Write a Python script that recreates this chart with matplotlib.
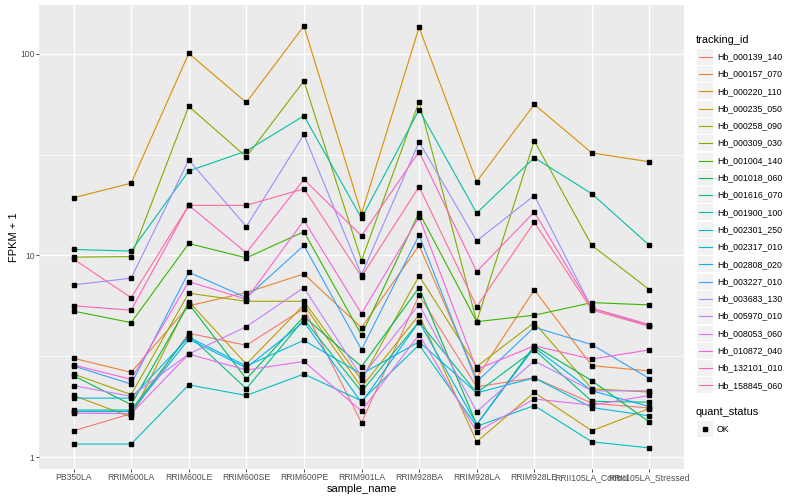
import numpy as np
import matplotlib
matplotlib.use("Agg")
import matplotlib.pyplot as plt
from matplotlib.patches import Rectangle
from matplotlib.lines import Line2D
from matplotlib.ticker import NullFormatter

plt.rcParams['font.family'] = ['Liberation Sans', 'DejaVu Sans']

samples = ["PB350LA", "RRIM600LA", "RRIM600LE", "RRIM600SE", "RRIM600PE", "RRIM901LA",
           "RRIM928BA", "RRIM928LA", "RRIM928LE", "RRII105LA_Control", "RRII105LA_Stressed"]

tracking_ids = ["Hb_000139_140", "Hb_000157_070", "Hb_000220_110", "Hb_000235_050",
                "Hb_000258_090", "Hb_000309_030", "Hb_001004_140", "Hb_001018_060",
                "Hb_001616_070", "Hb_001900_100", "Hb_002301_250", "Hb_002317_010",
                "Hb_002808_020", "Hb_003227_010", "Hb_003683_130", "Hb_005970_010",
                "Hb_008053_060", "Hb_010872_040", "Hb_132101_010", "Hb_158845_060"]

# FPKM + 1, one row per tracking_id, columns follow samples
hb_000139_140 = [1.35, 1.64, 4.11, 3.58, 5.45, 1.48, 6.35, 2.23, 2.47, 1.85, 1.75]
hb_000157_070 = [3.09, 2.63, 5.62, 6.54, 8.09, 4.38, 11.2, 2.47, 6.74, 2.84, 2.67]
hb_000220_110 = [19.3, 22.8, 100.3, 57.3, 137, 16.1, 135, 23.2, 56.0, 32.2, 29.1]
hb_000235_050 = [2.02, 1.58, 5.90, 2.89, 5.68, 2.22, 5.07, 1.19, 2.09, 1.35, 1.74]
hb_000258_090 = [2.58, 2.04, 6.49, 5.92, 5.92, 2.41, 7.91, 2.81, 4.64, 2.18, 2.10]
hb_000309_030 = [9.80, 9.86, 54.8, 30.8, 73.2, 9.42, 57.8, 4.69, 37.0, 11.2, 6.76]
hb_001004_140 = [5.29, 4.64, 11.45, 9.72, 13.1, 4.03, 16.3, 4.69, 5.05, 5.83, 5.68]
hb_001018_060 = [2.53, 1.82, 5.75, 2.44, 4.97, 2.81, 6.92, 1.45, 3.56, 2.39, 1.49]
hb_001616_070 = [1.71, 1.71, 4.03, 2.18, 4.82, 2.11, 4.69, 2.08, 3.40, 1.89, 1.87]
hb_001900_100 = [10.7, 10.5, 26.2, 32.9, 49.2, 15.3, 52.7, 16.2, 30.5, 20.2, 11.2]
hb_002301_250 = [1.16, 1.16, 2.28, 2.02, 2.58, 1.90, 3.60, 1.42, 1.80, 1.19, 1.11]
hb_002317_010 = [1.96, 1.96, 3.93, 2.83, 3.79, 2.58, 3.73, 2.08, 2.47, 1.76, 1.60]
hb_002808_020 = [1.68, 1.68, 3.84, 2.77, 4.68, 1.86, 4.69, 1.45, 3.49, 2.13, 1.78]
hb_003227_010 = [2.83, 2.30, 8.25, 6.17, 11.2, 3.41, 12.6, 2.36, 4.40, 3.61, 2.45]
hb_003683_130 = [7.14, 7.71, 29.7, 13.9, 39.8, 8.00, 36.5, 11.8, 19.8, 5.47, 4.47]
hb_005970_010 = [2.26, 2.00, 3.24, 4.43, 6.92, 2.50, 5.70, 1.68, 3.00, 2.13, 2.13]
hb_008053_060 = [1.65, 1.64, 3.24, 2.70, 2.98, 1.69, 4.05, 1.33, 1.94, 1.81, 2.02]
hb_010872_040 = [2.86, 2.43, 7.41, 6.06, 14.9, 5.14, 15.5, 2.72, 3.56, 3.06, 3.40]
hb_132101_010 = [5.62, 5.35, 17.7, 10.3, 23.8, 12.5, 32.7, 8.31, 16.4, 5.47, 4.54]
hb_158845_060 = [9.58, 6.17, 17.7, 17.7, 21.4, 7.85, 21.9, 5.57, 14.6, 5.36, 4.45]

series = [hb_000139_140, hb_000157_070, hb_000220_110, hb_000235_050, hb_000258_090,
          hb_000309_030, hb_001004_140, hb_001018_060, hb_001616_070, hb_001900_100,
          hb_002301_250, hb_002317_010, hb_002808_020, hb_003227_010, hb_003683_130,
          hb_005970_010, hb_008053_060, hb_010872_040, hb_132101_010, hb_158845_060]


def hcl_rgb(h, c=100, l=65):
    # ggplot's default hue palette (polar Luv -> sRGB)
    hr = np.radians(h)
    u, v = c * np.cos(hr), c * np.sin(hr)
    xn, yn, zn = 95.047, 100.0, 108.883
    Y = yn * ((l + 16) / 116) ** 3
    d = xn + 15 * yn + 3 * zn
    up = u / (13 * l) + 4 * xn / d
    vp = v / (13 * l) + 9 * yn / d
    X = Y * 9 * up / (4 * vp)
    Z = Y * (12 - 3 * up - 20 * vp) / (4 * vp)
    X, Y, Z = X / 100, Y / 100, Z / 100
    r = 3.240479 * X - 1.537150 * Y - 0.498535 * Z
    g = -0.969256 * X + 1.875992 * Y + 0.041556 * Z
    b = 0.055648 * X - 0.204043 * Y + 1.057311 * Z
    def gam(t):
        return 12.92 * t if t <= 0.0031308 else 1.055 * t ** (1 / 2.4) - 0.055
    return tuple(float(np.clip(gam(t), 0, 1)) for t in (r, g, b))


hues = np.linspace(15, 375, len(tracking_ids) + 1)[:-1]
colors = [hcl_rgb(h) for h in hues]

W, H = 800, 500
fig = plt.figure(figsize=(8, 5), dpi=100)
pl, pr, pt, pb = 39, 684, 5, 469
ax = fig.add_axes([pl / W, 1 - pb / H, (pr - pl) / W, (pb - pt) / H])
ax.set_facecolor("#EBEBEB")
for s in ax.spines.values():
    s.set_visible(False)

x = np.arange(len(samples))
for vals, col in zip(series, colors):
    ax.plot(x, vals, color=col, lw=0.8, zorder=3)
for vals in series:
    ax.plot(x, vals, ls="none", marker="s", ms=2.8, color="black", zorder=4)

ax.set_yscale("log")
allv = np.log10(np.concatenate([np.array(s) for s in series]))
lo, hi = allv.min(), allv.max()
span = hi - lo
ax.set_ylim(10 ** (lo - 0.05 * span), 10 ** (hi + 0.05 * span))
ax.set_xlim(-0.6, len(samples) - 0.4)

ax.set_yticks([1, 10, 100])
ax.set_yticklabels(["1", "10", "100"])
ax.set_yticks([10 ** 0.5, 10 ** 1.5], minor=True)
ax.yaxis.set_minor_formatter(NullFormatter())
ax.set_xticks(x)
ax.set_xticklabels(samples)
ax.tick_params(axis="both", which="major", length=2.2, width=0.6, color="#333333",
               labelsize=6.2, labelcolor="#4D4D4D", pad=1.0)
ax.tick_params(axis="both", which="minor", length=0)
ax.grid(True, which="major", color="white", lw=1.0, zorder=0)
ax.grid(True, which="minor", axis="y", color="white", lw=0.5, zorder=0)
ax.set_axisbelow(True)

ax.set_xlabel("sample_name", fontsize=8, labelpad=1)
ax.set_ylabel("FPKM + 1", fontsize=8, labelpad=1)

# legend drawn in pixel coordinates on an overlay axes
lax = fig.add_axes([0, 0, 1, 1], facecolor="none")
lax.set_xlim(0, W)
lax.set_ylim(H, 0)
lax.axis("off")

lax.text(696, 40, "tracking_id", fontsize=7.9, va="center", ha="left")
step = 17.3
for i, (name, col) in enumerate(zip(tracking_ids, colors)):
    yc = 56.7 + i * step
    lax.add_patch(Rectangle((697, yc - 8), 16, 16, facecolor="#F2F2F2", edgecolor="none"))
    lax.add_line(Line2D([698.5, 711.5], [yc, yc], color=col, lw=0.8))
    lax.text(717, yc, name, fontsize=6.3, va="center", ha="left")

lax.text(696, 412, "quant_status", fontsize=7.9, va="center", ha="left")
lax.add_patch(Rectangle((697, 421), 16, 16, facecolor="#F2F2F2", edgecolor="none"))
lax.plot([705], [429], ls="none", marker="s", ms=2.8, color="black")
lax.text(717, 429, "OK", fontsize=6.3, va="center", ha="left")

fig.savefig("out.png", dpi=100)
